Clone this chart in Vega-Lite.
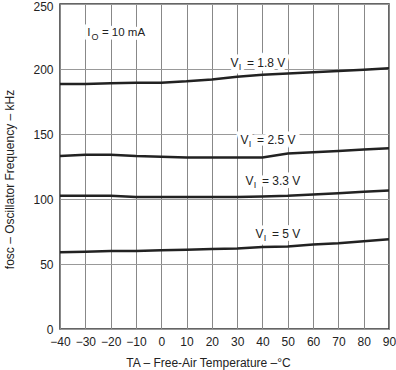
{
  "$schema": "https://vega.github.io/schema/vega-lite/v6.json",
  "width": 329,
  "height": 325,
  "autosize": {"type": "none"},
  "padding": {"left": 60, "top": 4, "right": 7, "bottom": 41},
  "config": {
    "font": "Liberation Sans",
    "view": {"stroke": "#333", "strokeWidth": 1.5},
    "axis": {"labelFont": "Liberation Sans", "titleFont": "Liberation Sans"}
  },
  "datasets": {
    "curves": [
      {"T": -40, "f": 188.5, "s": "1.8"}, {"T": -30, "f": 188.5, "s": "1.8"}, {"T": -20, "f": 189, "s": "1.8"}, {"T": -10, "f": 189.5, "s": "1.8"}, {"T": 0, "f": 189.5, "s": "1.8"}, {"T": 10, "f": 190.5, "s": "1.8"}, {"T": 20, "f": 192, "s": "1.8"}, {"T": 30, "f": 194, "s": "1.8"}, {"T": 40, "f": 195.5, "s": "1.8"}, {"T": 50, "f": 196.5, "s": "1.8"}, {"T": 60, "f": 197.5, "s": "1.8"}, {"T": 70, "f": 198.5, "s": "1.8"}, {"T": 80, "f": 199.5, "s": "1.8"}, {"T": 90, "f": 200.5, "s": "1.8"},
      {"T": -40, "f": 133, "s": "2.5"}, {"T": -30, "f": 134, "s": "2.5"}, {"T": -20, "f": 134, "s": "2.5"}, {"T": -10, "f": 133, "s": "2.5"}, {"T": 0, "f": 132.5, "s": "2.5"}, {"T": 10, "f": 132, "s": "2.5"}, {"T": 20, "f": 132, "s": "2.5"}, {"T": 30, "f": 132, "s": "2.5"}, {"T": 40, "f": 132, "s": "2.5"}, {"T": 50, "f": 135, "s": "2.5"}, {"T": 60, "f": 136, "s": "2.5"}, {"T": 70, "f": 137, "s": "2.5"}, {"T": 80, "f": 138, "s": "2.5"}, {"T": 90, "f": 139, "s": "2.5"},
      {"T": -40, "f": 102.5, "s": "3.3"}, {"T": -30, "f": 102.5, "s": "3.3"}, {"T": -20, "f": 102.5, "s": "3.3"}, {"T": -10, "f": 101.5, "s": "3.3"}, {"T": 0, "f": 101.5, "s": "3.3"}, {"T": 10, "f": 101.5, "s": "3.3"}, {"T": 20, "f": 101.5, "s": "3.3"}, {"T": 30, "f": 101.5, "s": "3.3"}, {"T": 40, "f": 102, "s": "3.3"}, {"T": 50, "f": 102.5, "s": "3.3"}, {"T": 60, "f": 103.5, "s": "3.3"}, {"T": 70, "f": 104.5, "s": "3.3"}, {"T": 80, "f": 105.5, "s": "3.3"}, {"T": 90, "f": 106.5, "s": "3.3"},
      {"T": -40, "f": 59, "s": "5"}, {"T": -30, "f": 59.5, "s": "5"}, {"T": -20, "f": 60, "s": "5"}, {"T": -10, "f": 60, "s": "5"}, {"T": 0, "f": 60.5, "s": "5"}, {"T": 10, "f": 61, "s": "5"}, {"T": 20, "f": 61.5, "s": "5"}, {"T": 30, "f": 62, "s": "5"}, {"T": 40, "f": 63, "s": "5"}, {"T": 50, "f": 63.5, "s": "5"}, {"T": 60, "f": 65, "s": "5"}, {"T": 70, "f": 66, "s": "5"}, {"T": 80, "f": 67.5, "s": "5"}, {"T": 90, "f": 69, "s": "5"}
    ],
    "labels": [
      {"T": 31.1, "f": 204.3, "main": "V", "sub": "I", "rest": "= 1.8 V", "k": "V"},
      {"T": 35.1, "f": 145.6, "main": "V", "sub": "I", "rest": "= 2.5 V", "k": "V"},
      {"T": 37.05, "f": 113.6, "main": "V", "sub": "I", "rest": "= 3.3 V", "k": "V"},
      {"T": 41.0, "f": 73.2, "main": "V", "sub": "I", "rest": "= 5 V", "k": "V"},
      {"T": -26.2, "f": 227.4, "main": "I", "sub": "O", "rest": "= 10 mA", "k": "I"}
    ]
  },
  "encoding": {
    "x": {
      "field": "T", "type": "quantitative",
      "scale": {"domain": [-40, 90], "nice": false, "zero": false},
      "axis": {
        "values": [-40, -30, -20, -10, 0, 10, 20, 30, 40, 50, 60, 70, 80, 90],
        "title": "TA – Free-Air Temperature –°C",
        "labelFontSize": 12, "labelColor": "#222", "labelPadding": 7, "labelFlush": false, "labelOverlap": false,
        "ticks": false, "domain": false,
        "grid": true, "gridColor": "#888", "gridWidth": 1,
        "titleFontSize": 12, "titleFontWeight": "normal", "titleColor": "#222",
        "titleX": 148, "titleY": 33, "titleBaseline": "middle", "titleAlign": "center"
      }
    },
    "y": {
      "field": "f", "type": "quantitative",
      "scale": {"domain": [0, 250], "nice": false},
      "axis": {
        "values": [0, 50, 100, 150, 200, 250],
        "title": "fosc – Oscillator Frequency – kHz",
        "labelFontSize": 12, "labelColor": "#222", "labelPadding": 7, "labelFlush": false, "labelOverlap": false,
        "labelOffset": {"condition": {"test": "datum.value === 250", "value": 2}, "value": 0},
        "ticks": false, "domain": false,
        "grid": true, "gridColor": "#999", "gridWidth": 1,
        "titleFontSize": 12, "titleFontWeight": "normal", "titleColor": "#222",
        "titleAngle": 270, "titleX": -51, "titleY": 175, "titleBaseline": "middle", "titleAlign": "center"
      }
    }
  },
  "layer": [
    {
      "data": {"name": "labels"},
      "transform": [{"filter": "datum.k === 'V'"}],
      "layer": [
        {"mark": {"type": "text", "align": "right", "baseline": "middle", "dx": -1.5, "fontSize": 12, "fill": "white", "stroke": "white", "strokeWidth": 7}, "encoding": {"text": {"field": "main"}}},
        {"mark": {"type": "text", "align": "center", "baseline": "middle", "dy": 4, "fontSize": 9, "fill": "white", "stroke": "white", "strokeWidth": 7}, "encoding": {"text": {"field": "sub"}}},
        {"mark": {"type": "text", "align": "left", "baseline": "middle", "dx": 7, "fontSize": 12, "fill": "white", "stroke": "white", "strokeWidth": 7}, "encoding": {"text": {"field": "rest"}}},
        {"mark": {"type": "text", "align": "right", "baseline": "middle", "dx": -1.5, "fontSize": 12, "color": "#222"}, "encoding": {"text": {"field": "main"}}},
        {"mark": {"type": "text", "align": "center", "baseline": "middle", "dy": 4, "fontSize": 9, "color": "#222"}, "encoding": {"text": {"field": "sub"}}},
        {"mark": {"type": "text", "align": "left", "baseline": "middle", "dx": 7, "fontSize": 12, "color": "#222"}, "encoding": {"text": {"field": "rest"}}}
      ]
    },
    {
      "data": {"name": "labels"},
      "transform": [{"filter": "datum.k === 'I'"}],
      "layer": [
        {"mark": {"type": "text", "align": "right", "baseline": "middle", "dx": -4.5, "fontSize": 11.5, "fill": "white", "stroke": "white", "strokeWidth": 7}, "encoding": {"text": {"field": "main"}}},
        {"mark": {"type": "text", "align": "center", "baseline": "middle", "dy": 4, "fontSize": 9, "fill": "white", "stroke": "white", "strokeWidth": 7}, "encoding": {"text": {"field": "sub"}}},
        {"mark": {"type": "text", "align": "left", "baseline": "middle", "dx": 7, "fontSize": 11.5, "fill": "white", "stroke": "white", "strokeWidth": 7}, "encoding": {"text": {"field": "rest"}}},
        {"mark": {"type": "text", "align": "right", "baseline": "middle", "dx": -4.5, "fontSize": 11.5, "color": "#222"}, "encoding": {"text": {"field": "main"}}},
        {"mark": {"type": "text", "align": "center", "baseline": "middle", "dy": 4, "fontSize": 9, "color": "#222"}, "encoding": {"text": {"field": "sub"}}},
        {"mark": {"type": "text", "align": "left", "baseline": "middle", "dx": 7, "fontSize": 11.5, "color": "#222"}, "encoding": {"text": {"field": "rest"}}}
      ]
    },
    {
      "data": {"name": "curves"},
      "mark": {"type": "line", "color": "#222", "strokeWidth": 2.5},
      "encoding": {"detail": {"field": "s"}}
    }
  ]
}
